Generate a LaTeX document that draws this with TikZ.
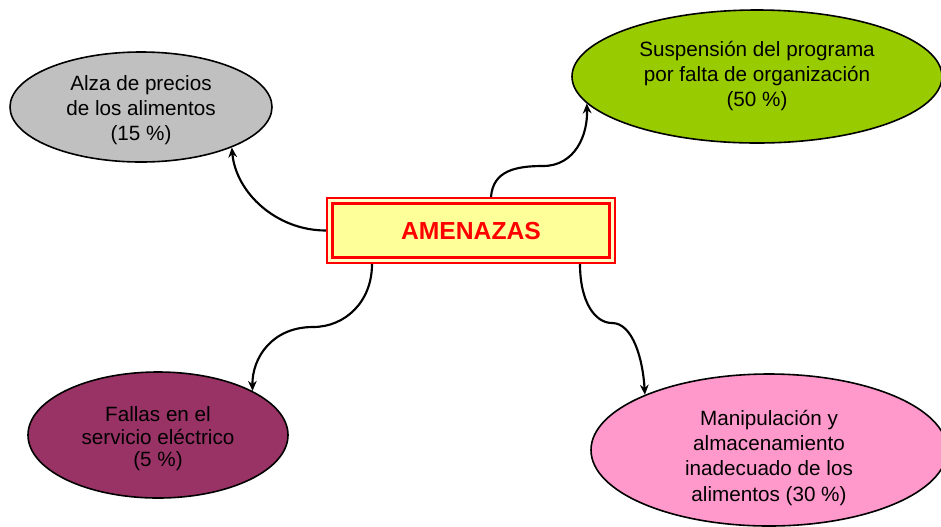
\documentclass[tikz,border=0pt]{standalone}
\usepackage{fontspec}
\setmainfont{Liberation Sans}
\usetikzlibrary{shapes.geometric,arrows.meta}
\definecolor{cgrey}{HTML}{C0C0C0}
\definecolor{cgreen}{HTML}{99CC00}
\definecolor{cpurple}{HTML}{993366}
\definecolor{cpink}{HTML}{FF99CC}
\definecolor{cyel}{HTML}{FFFF99}
\definecolor{cgap}{HTML}{FFFFCC}
\newcommand{\btext}[2]{\raisebox{#1}[\height][\depth]{\begin{tabular}{@{}c@{}}#2\end{tabular}}}
\begin{document}
\begin{tikzpicture}[x=0.75pt,y=-0.75pt,
  bubble/.style={ellipse, draw=black, line width=1.2pt, inner sep=0pt, align=center,
    font=\fontsize{15.5}{19}\selectfont},
  link/.style={line width=1.6pt, -{Stealth[length=7.5pt,width=6.5pt]}}]
\useasboundingbox (0,0) rectangle (941,526);
\node[bubble, fill=cgrey, minimum width=196.5pt, minimum height=82.5pt] (alza) at (141,107)
  {\btext{-2.5pt}{Alza de precios\\de los alimentos\\(15 \%)}};
\node[bubble, fill=cgreen, minimum width=277.5pt, minimum height=99.75pt] (susp) at (757,76.5)
  {\btext{0pt}{Suspensión del programa\\por falta de organización\\(50 \%)}};
\node[bubble, fill=cpurple, minimum width=195pt, minimum height=94.5pt,
  font=\fontsize{15.5}{17}\selectfont] (fallas) at (158,435)
  {\btext{-3.5pt}{Fallas en el\\servicio eléctrico\\(5 \%)}};
\node[bubble, fill=cpink, minimum width=267pt, minimum height=114pt] (manip) at (769,450)
  {\btext{-6pt}{Manipulación y\\almacenamiento\\inadecuado de los\\alimentos (30 \%)}};
\node[draw=red, line width=1.5pt, fill=cgap, minimum width=216pt, minimum height=48.75pt,
  inner sep=0pt, text=red, font=\bfseries\fontsize{18.5}{22}\selectfont,
  path picture={\draw[red, line width=2.4pt, fill=cyel]
    ([shift={(5.5,5.5)}]path picture bounding box.north west) rectangle
    ([shift={(-5.5,-5.5)}]path picture bounding box.south east);}]
  (box) at (471,230.5) {AMENAZAS};
\draw[link] (box.west) .. controls +(-50,0) and +(4,45) .. (alza.-24);
\draw[link] ([shift={(20,0)}]box.north) .. controls +(2,-26) and (515,166) .. (543,166)
  .. controls (575,166) and (588,135) .. (susp.189.7);
\draw[link] ([shift={(-99,0)}]box.south) .. controls +(0,38) and (345,327) .. (313,327)
  .. controls (272,327) and (252,358) .. (fallas.25.6);
\draw[link] ([shift={(109,0)}]box.south) .. controls +(0,38) and (595,323) .. (612,323)
  .. controls (633,323) and (643,360) .. (manip.156.6);
\end{tikzpicture}
\end{document}
